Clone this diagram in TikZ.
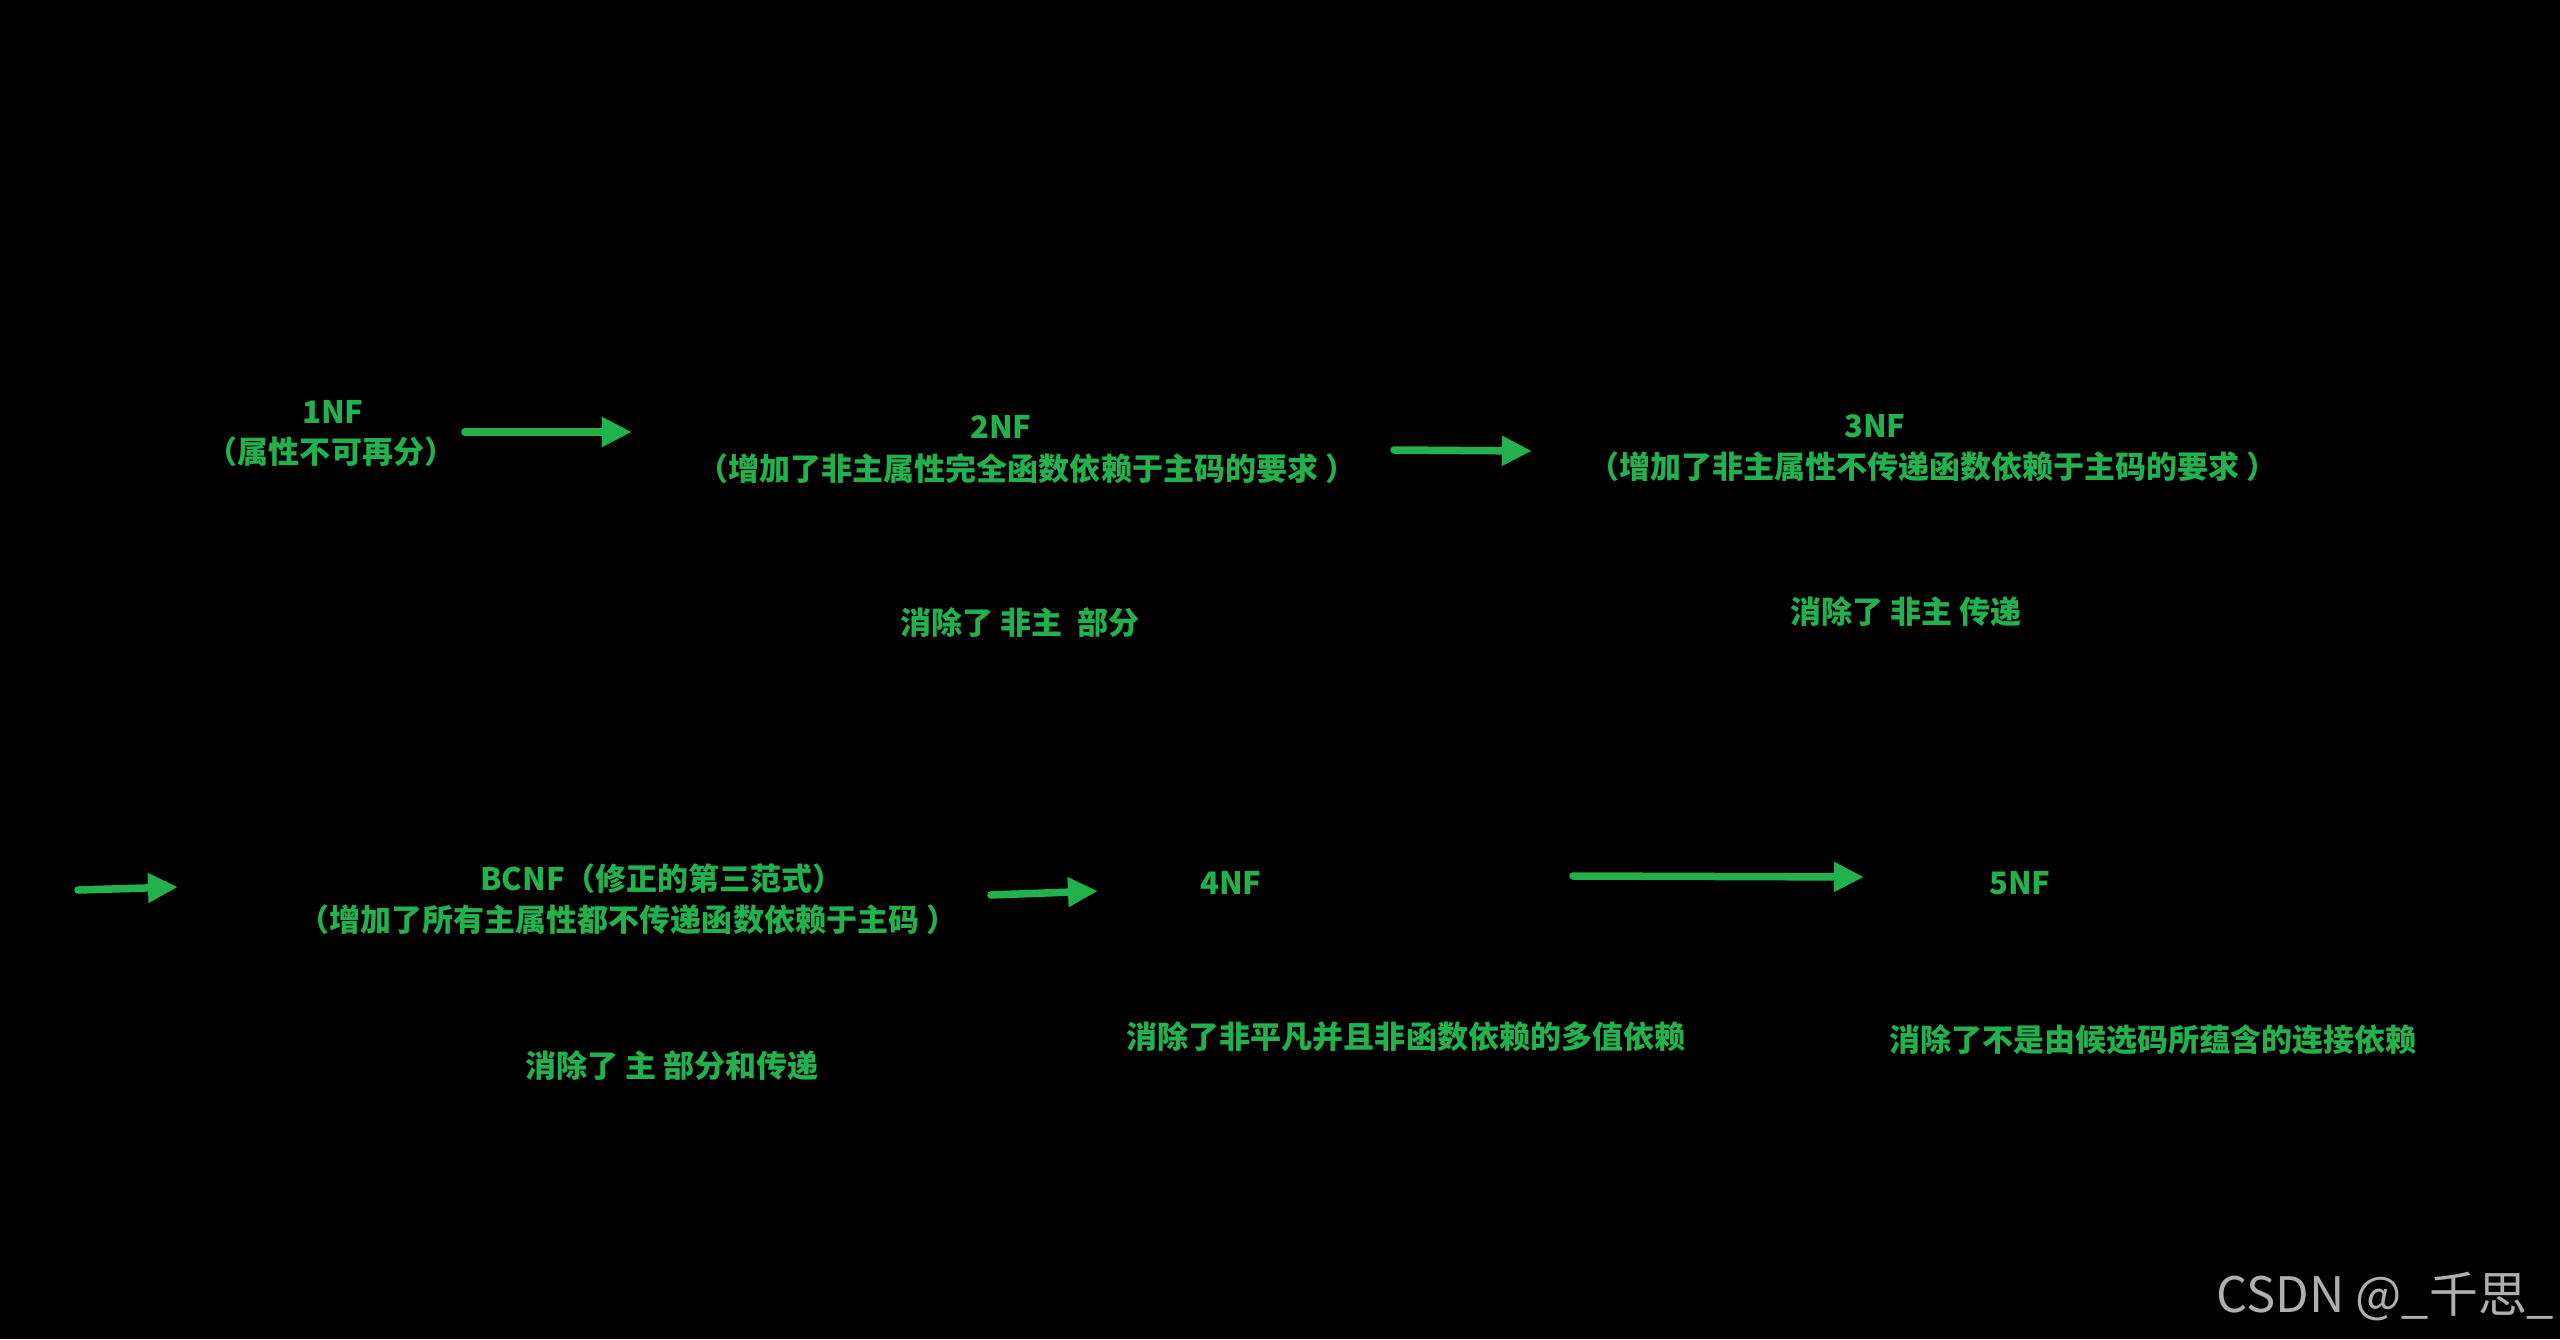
\documentclass[tikz,border=0pt]{standalone}
\usepackage{fontspec}
\setmainfont{Noto Sans CJK SC}
\usetikzlibrary{arrows.meta}
\definecolor{grn}{RGB}{34,177,76}
\definecolor{wmgray}{RGB}{175,175,175}
\begin{document}
\begin{tikzpicture}[x=0.01cm,y=-0.01cm,
  lbl/.style={text=grn, font=\fontsize{8.82pt}{10pt}\selectfont\bfseries, inner sep=0pt, anchor=base},
  arr/.style={draw=grn, line width=0.075cm, line cap=round, -{Triangle[length=0.30cm,width=0.28cm]}},
]
\fill[black] (0,0) rectangle (2560,1339);
\useasboundingbox (0,0) rectangle (2560,1339);

\node[lbl] (nf1) at (333,423) {1NF};
\node[lbl] (nf1d) at (331,463) {（属性不可再分）};
\node[lbl] (nf2) at (1001,438) {2NF};
\node[lbl] (nf2d) at (1027,480) {（增加了非主属性完全函数依赖于主码的要求 ）};
\node[lbl] (nf3) at (1875,437) {3NF};
\node[lbl] (nf3d) at (1933,478) {（增加了非主属性不传递函数依赖于主码的要求 ）};
\node[lbl] (r2) at (1020,634) {消除了 非主\ \ 部分};
\node[lbl] (r3) at (1906,623) {消除了 非主 传递};
\node[lbl] (bc) at (662,890) {BCNF（修正的第三范式）};
\node[lbl] (bcd) at (628,931) {（增加了所有主属性都不传递函数依赖于主码 ）};
\node[lbl] (nf4) at (1231,894) {4NF};
\node[lbl] (nf5) at (2020,894) {5NF};
\node[lbl] (rbc) at (672,1077) {消除了 主 部分和传递};
\node[lbl] (r4) at (1406,1048) {消除了非平凡并且非函数依赖的多值依赖};
\node[lbl] (r5) at (2153,1051) {消除了不是由候选码所蕴含的连接依赖};
\node[text=wmgray, font=\fontsize{13.9pt}{16pt}\selectfont, anchor=base east, inner sep=0pt] (wm) at (2555,1312) {CSDN @\_千思\_};

\coordinate (a1s) at (465,432);
\coordinate (a1e) at (632,432);
\coordinate (a2s) at (1394,450);
\coordinate (a2e) at (1532,451);
\coordinate (a3s) at (78,890);
\coordinate (a3e) at (178,887);
\coordinate (a4s) at (991,895);
\coordinate (a4e) at (1098,891);
\coordinate (a5s) at (1573,876);
\coordinate (a5e) at (1864,877);

\draw[arr] (a1s) -- (a1e);
\draw[arr] (a2s) -- (a2e);
\draw[arr] (a3s) -- (a3e);
\draw[arr] (a4s) -- (a4e);
\draw[arr] (a5s) -- (a5e);
\end{tikzpicture}
\end{document}
